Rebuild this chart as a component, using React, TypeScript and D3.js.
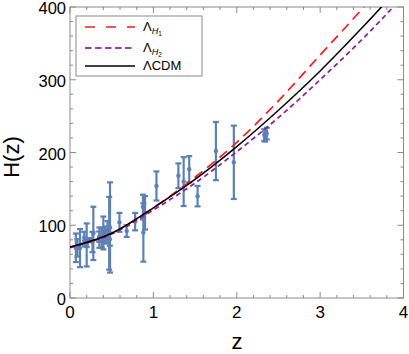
import React, { useEffect, useRef } from 'react';
import * as d3 from 'd3';

// H(z) data points: redshift, H, sigma
const obsZ = [0.07, 0.09, 0.12, 0.17, 0.179, 0.199, 0.2, 0.24, 0.27, 0.28, 0.35, 0.352, 0.3802, 0.4, 0.4004, 0.4247, 0.43, 0.44, 0.4497, 0.47, 0.4783, 0.48, 0.593, 0.68, 0.781, 0.875, 0.88, 0.9, 1.037, 1.3, 1.363, 1.43, 1.53, 1.75, 1.965, 2.33, 2.34, 2.36];
const obsH = [69, 69, 68.6, 83, 75, 75, 72.9, 79.7, 77, 88.8, 84.4, 83, 83, 95, 77, 87.1, 86.5, 82.6, 92.8, 89, 80.9, 97, 104, 92, 105, 125, 90, 117, 154, 168, 160, 177, 140, 202, 186.5, 224, 222, 226];
const obsErr = [19.6, 12, 26.2, 8, 4, 5, 29.6, 2.7, 14, 36.6, 7, 14, 13.5, 17, 10.2, 11.2, 3.7, 7.8, 12.9, 50, 9, 62, 13, 8, 12, 17, 40, 23, 20, 17, 33.6, 18, 14, 40, 50.4, 8, 7, 8];

// model curves
const curveZ = [0, 0.5, 1, 1.5, 2, 2.5, 3, 3.5, 4];
const lcdm = [70, 89, 124, 163, 208, 258, 312, 371, 433];
const lh1 = [70, 89, 124, 166, 214, 271, 334, 397, 466];
const lh2 = [69, 88, 121, 158, 201, 248, 300, 355, 415];

const xTicks = [0, 1, 2, 3, 4];
const yTicks = [0, 100, 200, 300, 400];

const App = () => {
  const svgRef = useRef<SVGSVGElement>(null);

  useEffect(() => {
    const svg = d3.select(svgRef.current);
    svg.selectAll('*').remove();

    const left = 70, right = 403.5, top = 7, bottom = 298;
    const x = d3.scaleLinear().domain([0, 4]).range([left, right]);
    const y = d3.scaleLinear().domain([0, 400]).range([bottom, top]);
    const font = 'Liberation Sans, Arial, sans-serif';
    const frameColor = '#8a8a8a';

    svg.append('clipPath').attr('id', 'plotclip')
      .append('rect').attr('x', left).attr('y', top)
      .attr('width', right - left).attr('height', bottom - top);

    // ticks on all four sides, pointing inward
    const ticks = svg.append('g').attr('stroke', frameColor).attr('stroke-width', 1);
    d3.range(0, 4.001, 0.2).forEach((v, i) => {
      const len = i % 5 === 0 ? 6 : 3;
      ticks.append('line').attr('x1', x(v)).attr('x2', x(v)).attr('y1', bottom).attr('y2', bottom - len);
      ticks.append('line').attr('x1', x(v)).attr('x2', x(v)).attr('y1', top).attr('y2', top + len);
    });
    d3.range(0, 400.01, 20).forEach((v, i) => {
      const len = i % 5 === 0 ? 6 : 3;
      ticks.append('line').attr('y1', y(v)).attr('y2', y(v)).attr('x1', left).attr('x2', left + len);
      ticks.append('line').attr('y1', y(v)).attr('y2', y(v)).attr('x1', right).attr('x2', right - len);
    });

    svg.append('rect').attr('x', left).attr('y', top)
      .attr('width', right - left).attr('height', bottom - top)
      .attr('fill', 'none').attr('stroke', frameColor).attr('stroke-width', 1);

    // tick labels
    svg.append('g').selectAll('text').data(xTicks).enter().append('text')
      .attr('x', d => x(d)).attr('y', bottom + 20)
      .attr('text-anchor', 'middle').attr('font-family', font).attr('font-size', 17)
      .text(d => d);
    svg.append('g').selectAll('text').data(yTicks).enter().append('text')
      .attr('x', left - 4).attr('y', d => y(d) + 7)
      .attr('text-anchor', 'end').attr('font-family', font).attr('font-size', 16.5)
      .text(d => d);

    // axis titles
    svg.append('text').attr('x', 237).attr('y', 349)
      .attr('text-anchor', 'middle').attr('font-family', font).attr('font-size', 22).text('z');
    svg.append('text').attr('transform', 'translate(19,157) rotate(-90)')
      .attr('text-anchor', 'middle').attr('font-family', font).attr('font-size', 22).text('H(z)');

    // data with error bars
    const blue = '#5d80b6';
    const pts = obsZ.map((z, i) => ({ z, h: obsH[i], e: obsErr[i] }));
    const eb = svg.append('g').attr('stroke', blue).attr('stroke-width', 2.2);
    pts.forEach(p => {
      const cx = x(p.z);
      eb.append('line').attr('x1', cx).attr('x2', cx).attr('y1', y(p.h - p.e)).attr('y2', y(p.h + p.e));
      eb.append('line').attr('x1', cx - 3).attr('x2', cx + 3).attr('y1', y(p.h - p.e)).attr('y2', y(p.h - p.e));
      eb.append('line').attr('x1', cx - 3).attr('x2', cx + 3).attr('y1', y(p.h + p.e)).attr('y2', y(p.h + p.e));
    });
    svg.append('g').selectAll('circle').data(pts).enter().append('circle')
      .attr('cx', d => x(d.z)).attr('cy', d => y(d.h)).attr('r', 2.2).attr('fill', blue);

    // model curves
    const line = d3.line<number>()
      .x((_, i) => x(curveZ[i]))
      .y(d => y(d))
      .curve(d3.curveMonotoneX);
    const curves = svg.append('g').attr('clip-path', 'url(#plotclip)').attr('fill', 'none');
    curves.append('path').attr('d', line(lh1)).attr('stroke', '#ff1a1a')
      .attr('stroke-width', 1.7).attr('stroke-dasharray', '10,6');
    curves.append('path').attr('d', line(lh2)).attr('stroke', '#8e1a9a')
      .attr('stroke-width', 1.7).attr('stroke-dasharray', '5,3.5');
    curves.append('path').attr('d', line(lcdm)).attr('stroke', '#000')
      .attr('stroke-width', 1.5);

    // legend
    const lg = svg.append('g');
    lg.append('rect').attr('x', 76).attr('y', 16).attr('width', 126).attr('height', 60)
      .attr('fill', '#fff').attr('stroke', frameColor).attr('stroke-width', 1);
    const entries = [
      { dy: 27, color: '#ff1a1a', dash: '10,11', w: 1.3, sub: '1' },
      { dy: 48, color: '#a03aae', dash: '6.5,3.5', w: 2, sub: '2' },
      { dy: 66, color: '#000', dash: null, w: 1.5, sub: null },
    ];
    entries.forEach(e => {
      lg.append('line').attr('x1', 85).attr('x2', 135).attr('y1', e.dy).attr('y2', e.dy)
        .attr('stroke', e.color).attr('stroke-width', e.w)
        .attr('stroke-dasharray', e.dash);
      const t = lg.append('text').attr('x', 143).attr('y', e.dy + 4)
        .attr('font-family', font).attr('font-size', 13);
      if (e.sub) {
        t.append('tspan').text('Λ');
        t.append('tspan').attr('font-size', 9).attr('font-style', 'italic').attr('dy', 3).text('H');
        t.append('tspan').attr('font-size', 6.5).attr('dy', 1.5).text(e.sub);
      } else {
        t.text('ΛCDM');
      }
    });
  }, []);

  return (
    <svg
      ref={svgRef}
      width="409"
      height="354"
      style={{ position: 'absolute', left: 0, top: 0, background: '#fff' }}
    />
  );
};

export default App;
